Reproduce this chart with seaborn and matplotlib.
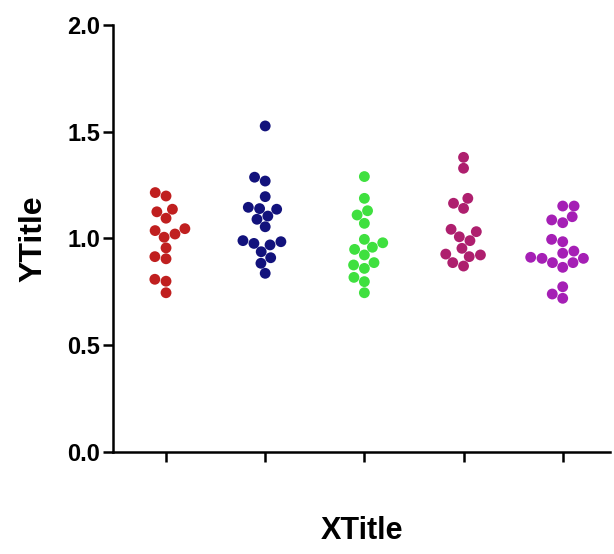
import pandas as pd
import matplotlib
matplotlib.use("Agg")
import matplotlib.pyplot as plt
import seaborn as sns

# values, one list per column
groups = ["A", "B", "C", "D", "E"]
colors = ["#C01F1F", "#12127C", "#3FE03F", "#AE1F6E", "#A51FB5"]

vals_a = [1.215, 1.199, 1.125, 1.137, 1.095, 1.037, 1.006, 1.021, 1.046,
          0.956, 0.915, 0.905, 0.809, 0.800, 0.746]
vals_b = [1.527, 1.287, 1.269, 1.196, 1.146, 1.140, 1.137, 1.105, 1.090,
          1.055, 0.990, 0.970, 0.977, 0.985, 0.938, 0.910, 0.884, 0.837]
vals_c = [1.290, 1.188, 1.130, 1.110, 1.071, 0.996, 0.959, 0.923, 0.949,
          0.980, 0.860, 0.876, 0.887, 0.818, 0.798, 0.746]
vals_d = [1.380, 1.329, 1.188, 1.165, 1.141, 1.043, 1.008, 1.032, 0.990,
          0.954, 0.915, 0.923, 0.927, 0.887, 0.871]
vals_e = [1.152, 1.152, 1.102, 1.087, 1.074, 0.996, 0.985, 0.941, 0.887,
          0.907, 0.931, 0.912, 0.887, 0.907, 0.865, 0.774, 0.720, 0.740]

yticks = [0.0, 0.5, 1.0, 1.5, 2.0]
ytick_labels = ["0.0", "0.5", "1.0", "1.5", "2.0"]

df = pd.concat([
    pd.DataFrame({"group": g, "value": v})
    for g, v in zip(groups, [vals_a, vals_b, vals_c, vals_d, vals_e])
], ignore_index=True)

sns.set_style("ticks")
plt.rcParams["font.family"] = ["Liberation Sans", "DejaVu Sans"]
plt.rcParams["font.weight"] = "bold"
for key in ("text.color", "axes.labelcolor", "xtick.color", "ytick.color"):
    plt.rcParams[key] = "black"

fig = plt.figure(figsize=(6.14, 5.54), dpi=100)
ax = fig.add_axes([0.184, 0.184, 0.81, 0.771])

sns.swarmplot(
    data=df,
    x="group",
    y="value",
    hue="group",
    order=groups,
    hue_order=groups,
    palette=colors,
    size=7.8,
    linewidth=0,
    legend=False,
    ax=ax,
)

ax.set_xlim(-0.535, 4.48)
ax.set_ylim(0, 2.0)
ax.set_yticks(yticks)
ax.set_yticklabels(ytick_labels, fontsize=17, fontweight="bold")
ax.set_xticks(range(len(groups)))
ax.set_xticklabels([])

ax.tick_params(axis="both", direction="out", length=7, width=1.8, color="black", pad=2)
for side in ("left", "bottom"):
    ax.spines[side].set_linewidth(1.8)
    ax.spines[side].set_color("black")
sns.despine(ax=ax)

ax.set_xlabel("XTitle", fontsize=22, fontweight="bold", labelpad=37)
ax.set_ylabel("YTitle", fontsize=23, fontweight="bold", labelpad=14)

fig.savefig("out.png", dpi=100, facecolor="white")
